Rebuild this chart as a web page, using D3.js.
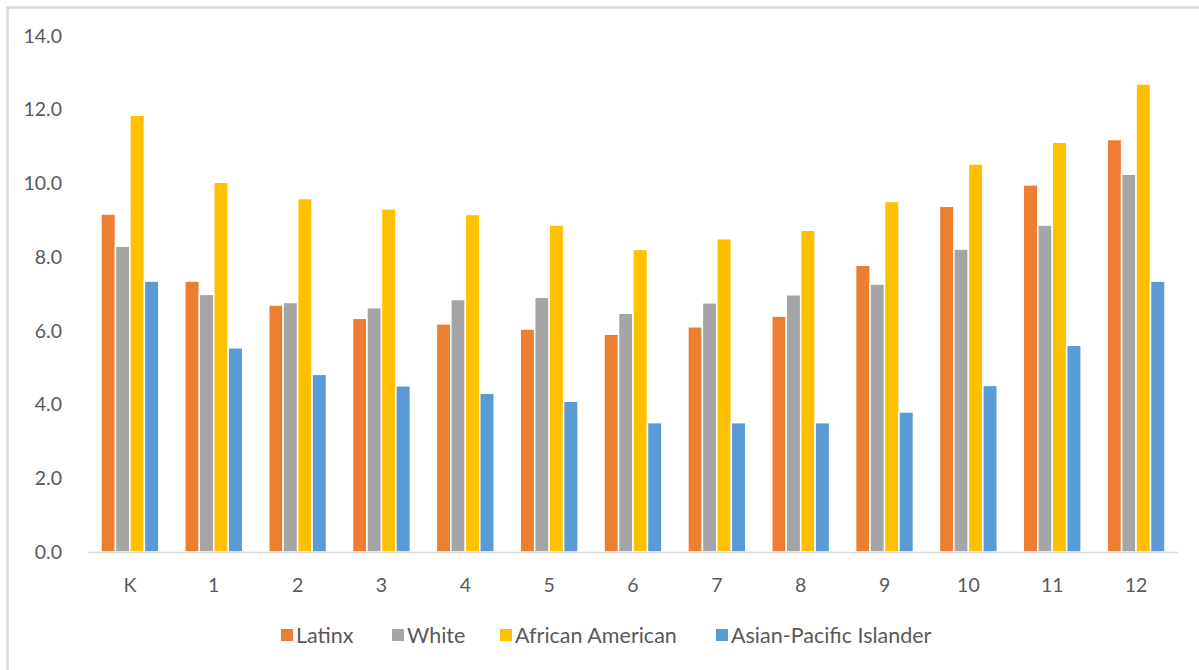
<!DOCTYPE html>
<html>
<head>
<meta charset="utf-8">
<script src="https://cdn.jsdelivr.net/npm/d3@7"></script>
<style>
  html, body { margin: 0; padding: 0; background: #fff; }
  svg { display: block; }
  text { font-family: Lato, "Open Sans", sans-serif; fill: #595959; }
</style>
</head>
<body>
<svg id="chart" width="1199" height="670"></svg>
<script>
// Grades and series values
const categories = ["K", "1", "2", "3", "4", "5", "6", "7", "8", "9", "10", "11", "12"];
const seriesNames = ["Latinx", "White", "African American", "Asian-Pacific Islander"];
const latinx   = [9.17, 7.35, 6.70, 6.34, 6.19, 6.05, 5.91, 6.11, 6.40, 7.78, 9.38, 9.96, 11.19];
const white    = [8.30, 6.99, 6.77, 6.63, 6.85, 6.91, 6.48, 6.76, 6.98, 7.27, 8.22, 8.87, 10.25];
const african  = [11.85, 10.03, 9.59, 9.31, 9.16, 8.87, 8.21, 8.50, 8.73, 9.51, 10.53, 11.12, 12.70];
const asianPI  = [7.35, 5.54, 4.82, 4.51, 4.31, 4.09, 3.51, 3.51, 3.51, 3.80, 4.52, 5.61, 7.35];
const yTicks = [0, 2, 4, 6, 8, 10, 12, 14];
const colors = ["#ED7D31", "#A5A5A5", "#FFC000", "#5B9BD5"];

const seriesValues = [latinx, white, african, asianPI];

const svg = d3.select("#chart");
const W = 1199, H = 670;
const m = { left: 88, right: 1178, top: 36, bottom: 552 };

// outer frame (top and left edges visible)
svg.append("rect").attr("x", 0).attr("y", 0).attr("width", W).attr("height", H).attr("fill", "#fff");
svg.append("path")
  .attr("d", `M7.5,${H} V7.5 H${W}`)
  .attr("fill", "none").attr("stroke", "#d9d9d9").attr("stroke-width", 2.5);

const x0 = d3.scaleBand().domain(categories).range([m.left, m.right])
  .paddingInner(0.31).paddingOuter(0.155);
const x1 = d3.scaleBand().domain(d3.range(seriesNames.length)).range([0, x0.bandwidth()]);
const y = d3.scaleLinear().domain([0, 14]).range([m.bottom, m.top]);

// y-axis labels
const yAxis = d3.axisLeft(y).tickValues(yTicks).tickFormat(d3.format(".1f")).tickSize(0).tickPadding(0);
const gy = svg.append("g").attr("transform", `translate(62,0)`).call(yAxis);
gy.select(".domain").remove();
gy.selectAll("text").attr("font-size", 19.5).style("fill", "#595959").style("font-family", "Lato, sans-serif");

// bars
const groups = svg.append("g").selectAll("g").data(categories).join("g")
  .attr("transform", d => `translate(${x0(d)},0)`);
groups.selectAll("rect")
  .data((c, ci) => seriesValues.map((vals, si) => ({ si, v: vals[ci] })))
  .join("rect")
  .attr("x", d => x1(d.si))
  .attr("width", x1.bandwidth())
  .attr("y", d => y(d.v))
  .attr("height", d => y(0) - y(d.v))
  .attr("fill", d => colors[d.si])
  .attr("stroke", "#fff")
  .attr("stroke-width", 1.5);

// x axis line and category labels
const xAxis = d3.axisBottom(x0).tickSize(0).tickPadding(26);
const gx = svg.append("g").attr("transform", `translate(0,${m.bottom})`).call(xAxis);
gx.select(".domain").attr("stroke", "#d9d9d9").attr("stroke-width", 1.5);
gx.selectAll("text").attr("font-size", 19.5).style("fill", "#595959").style("font-family", "Lato, sans-serif");

// legend
const legendX = [281, 392, 500, 716];
const legend = svg.append("g").selectAll("g").data(seriesNames).join("g")
  .attr("transform", (d, i) => `translate(${legendX[i]},635)`);
legend.append("rect").attr("x", 0).attr("y", -6).attr("width", 12).attr("height", 12)
  .attr("fill", (d, i) => colors[i]);
legend.append("text").attr("x", 15).attr("y", 0).attr("dy", "0.35em")
  .attr("font-size", 21.5).text(d => d);
</script>
</body>
</html>
